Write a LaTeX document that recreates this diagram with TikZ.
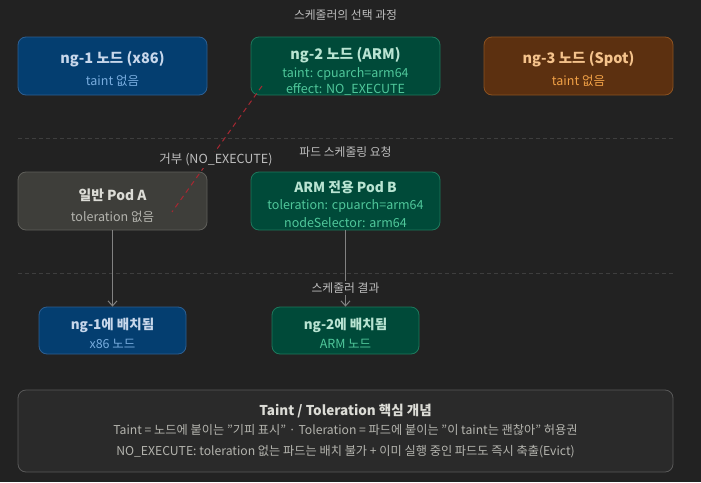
\documentclass[tikz,border=0pt]{standalone}
\usepackage{fontspec}
\setmainfont{Noto Sans CJK KR}
\usetikzlibrary{arrows.meta}
\definecolor{bg}{RGB}{34,34,34}
\definecolor{bluefill}{RGB}{4,62,112}
\definecolor{blueedge}{RGB}{45,95,145}
\definecolor{bluetitle}{RGB}{200,215,235}
\definecolor{bluesub}{RGB}{120,172,222}
\definecolor{greenfill}{RGB}{0,74,57}
\definecolor{greenedge}{RGB}{30,120,92}
\definecolor{greentitle}{RGB}{185,228,210}
\definecolor{greensub}{RGB}{80,200,155}
\definecolor{brownfill}{RGB}{92,48,16}
\definecolor{brownedge}{RGB}{140,82,32}
\definecolor{browntitle}{RGB}{245,195,140}
\definecolor{brownsub}{RGB}{240,160,70}
\definecolor{grayfill}{RGB}{62,62,58}
\definecolor{grayedge}{RGB}{95,95,90}
\definecolor{graytitle}{RGB}{220,220,214}
\definecolor{graysub}{RGB}{180,180,174}
\definecolor{notefill}{RGB}{42,42,42}
\definecolor{noteedge}{RGB}{88,88,88}
\definecolor{labeltext}{RGB}{190,190,190}
\definecolor{sepline}{RGB}{62,62,62}
\definecolor{arrowgray}{RGB}{130,130,130}
\definecolor{rejectred}{RGB}{165,40,50}
\tikzset{
  boxbase/.style={rounded corners=8pt, line width=0.8pt, inner sep=0pt},
  bluebox/.style={boxbase, fill=bluefill, draw=blueedge},
  greenbox/.style={boxbase, fill=greenfill, draw=greenedge},
  brownbox/.style={boxbase, fill=brownfill, draw=brownedge},
  graybox/.style={boxbase, fill=grayfill, draw=grayedge},
  notebox/.style={boxbase, fill=notefill, draw=noteedge},
  ttl/.style={font=\fontsize{14.5}{16}\selectfont\bfseries, inner sep=0pt},
  ttlk/.style={font=\fontsize{13.8}{16}\selectfont\bfseries, inner sep=0pt},
  sub/.style={font=\fontsize{12.5}{14}\selectfont, inner sep=0pt},
  seclabel/.style={font=\fontsize{11.8}{13}\selectfont, text=labeltext, inner sep=1.5pt},
  sep/.style={draw=sepline, line width=0.6pt, dash pattern=on 4pt off 3pt},
  conn/.style={draw=arrowgray, line width=1pt, -{Straight Barb[length=5pt,width=9pt]}},
  reject/.style={draw=rejectred, line width=1pt, dash pattern=on 5pt off 4pt},
  notetext/.style={font=\fontsize{12.2}{14}\selectfont, text=graysub, inner sep=0pt},
}
\begin{document}
\begin{tikzpicture}[x=1pt,y=-1pt]
\fill[bg] (0,0) rectangle (701,482);
\useasboundingbox (0,0) rectangle (701,482);

% section title
\node[seclabel] (t1) at (345.5,15) {스케줄러의 선택 과정};

% node groups
\node[bluebox, minimum width=189pt, minimum height=58pt] (ng1) at (112.5,66) {};
\node[ttl, text=bluetitle] (ng1t) at (112.5,59.5) {ng-1 노드 (x86)};
\node[sub, text=bluesub] (ng1s) at (112.5,81) {taint 없음};

\node[greenbox, minimum width=189pt, minimum height=58pt] (ng2) at (345.5,66) {};
\node[ttl, text=greentitle] (ng2t) at (345.5,55.5) {ng-2 노드 (ARM)};
\node[sub, text=greensub] (ng2s1) at (345.5,73.5) {taint: cpuarch=arm64};
\node[sub, text=greensub] (ng2s2) at (345.5,89.5) {effect: NO\_EXECUTE};

\node[brownbox, minimum width=189pt, minimum height=58pt] (ng3) at (578.5,66) {};
\node[ttl, text=browntitle] (ng3t) at (578.5,59.5) {ng-3 노드 (Spot)};
\node[sub, text=brownsub] (ng3s) at (578.5,81) {taint 없음};

% separator 1
\coordinate (s1a) at (18,138);
\coordinate (s1b) at (673,138);
\draw[sep] (s1a) -- (s1b);

\node[seclabel] (t2) at (345.5,152) {파드 스케줄링 요청};

% pods
\node[graybox, minimum width=189pt, minimum height=58pt] (podA) at (112.5,201) {};
\node[ttlk, text=graytitle] (podAt) at (112.5,195) {일반 Pod A};
\node[sub, text=graysub] (podAs) at (112.5,217) {toleration 없음};

\node[greenbox, minimum width=189pt, minimum height=58pt] (podB) at (345.5,201) {};
\node[ttlk, text=greentitle] (podBt) at (345.5,187.5) {ARM 전용 Pod B};
\node[sub, text=greensub] (podBs1) at (345.5,205.5) {toleration: cpuarch=arm64};
\node[sub, text=greensub] (podBs2) at (345.5,222.5) {nodeSelector: arm64};

% separator 2
\coordinate (s2a) at (18,273);
\coordinate (s2b) at (673,273);
\draw[sep] (s2a) -- (s2b);

% results
\node[bluebox, minimum width=147pt, minimum height=47pt] (res1) at (112.5,330.5) {};
\node[font=\fontsize{13.5}{15}\selectfont\bfseries, text=bluetitle, inner sep=0pt] (res1t) at (112.5,325) {ng-1에 배치됨};
\node[sub, text=bluesub] (res1s) at (112.5,343.5) {x86 노드};

\node[greenbox, minimum width=147pt, minimum height=47pt] (res2) at (345.5,330.5) {};
\node[font=\fontsize{13.5}{15}\selectfont\bfseries, text=greentitle, inner sep=0pt] (res2t) at (345.5,325) {ng-2에 배치됨};
\node[sub, text=greensub] (res2s) at (345.5,343.5) {ARM 노드};

% connectors
\draw[conn] (podA.south) -- (res1.north);
\draw[conn] (podB.south) -- (res2.north);
\node[seclabel, fill=bg] (t3) at (345.5,288) {스케줄러 결과};

% rejection
\coordinate (rejTop) at (262,86);
\coordinate (rejBot) at (172,212);
\draw[reject] (rejTop) -- (rejBot);
\node[seclabel, font=\fontsize{12.5}{14}\selectfont, fill=bg, inner sep=2pt] (rejl) at (216,160) {거부 (NO\_EXECUTE)};

% note box
\node[notebox, minimum width=655pt, minimum height=82pt] (note) at (345.5,431) {};
\node[font=\fontsize{13.5}{15}\selectfont\bfseries, text=graytitle, inner sep=0pt] (notet) at (345.5,411) {Taint / Toleration 핵심 개념};
\node[notetext] (note1) at (345.5,430) {Taint = 노드에 붙이는 "기피 표시" · Toleration = 파드에 붙이는 "이 taint는 괜찮아" 허용권};
\node[notetext] (note2) at (345.5,451.5) {NO\_EXECUTE: toleration 없는 파드는 배치 불가 + 이미 실행 중인 파드도 즉시 축출(Evict)};
\end{tikzpicture}
\end{document}
